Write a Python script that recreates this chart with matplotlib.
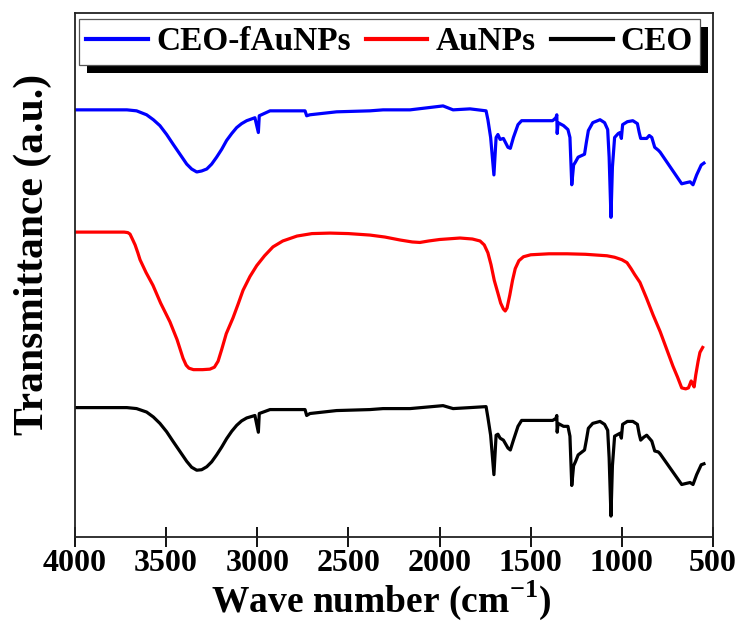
import matplotlib
matplotlib.use("Agg")
import matplotlib.pyplot as plt
from matplotlib.patches import Rectangle
from matplotlib.transforms import IdentityTransform

plt.rcParams['font.family'] = 'Liberation Serif'
plt.rcParams['font.weight'] = 'bold'
plt.rcParams['mathtext.fontset'] = 'custom'
plt.rcParams['mathtext.rm'] = 'Liberation Serif:bold'
plt.rcParams['mathtext.bf'] = 'Liberation Serif:bold'

# FTIR spectra, transmittance in arbitrary units (offset stacked)
wn_ceo_f = [4000, 3715, 3662, 3607, 3570, 3534, 3497, 3461, 3424, 3387, 3360, 3332, 3305, 3277,
            3250, 3223, 3195, 3168, 3140, 3113, 3086, 3058, 3013, 2994, 2989, 2930, 2738, 2729,
            2711, 2565, 2382, 2310, 2162, 1981, 1926, 1833,
            1745, 1735, 1720, 1702, 1690, 1680, 1668, 1650, 1625, 1612, 1595, 1570, 1550, 1380,
            1362, 1357, 1355, 1350, 1320, 1296, 1285, 1275, 1265, 1255, 1240, 1205, 1195, 1184,
            1160, 1120, 1095, 1078, 1070, 1060, 1052, 1040, 1020, 1010, 1003, 996, 970, 940,
            915, 905, 897, 880, 864, 850, 836, 820, 800, 790, 672, 650, 626, 610, 590, 575,
            565, 550]
t_ceo_f = [433, 433, 432, 428, 423, 417, 408, 398, 388, 378, 373, 370, 371, 373,
           378, 385, 393, 402, 409, 415, 419, 422, 425, 410, 427, 432, 432, 427,
           428, 431, 432, 433, 433, 437, 433, 434,
           432, 423, 405, 367, 405, 408, 403, 404, 395, 394, 405, 418, 422, 422,
           425, 428, 409, 420, 417, 413, 405, 357, 377, 380, 385, 388, 400, 412,
           420, 423, 420, 413, 385, 324, 375, 405, 409, 410, 404, 418, 421, 422,
           419, 410, 404, 404, 404, 407, 405, 395, 392, 390, 358, 359, 360, 357, 367, 373,
           377, 379]

wn_au = [4000, 3730, 3710, 3698, 3685, 3670, 3655, 3643, 3610, 3572, 3530, 3479, 3440, 3407,
         3390, 3375, 3350, 3300, 3260, 3235, 3215, 3195, 3170, 3133, 3105, 3078, 3040, 3003,
         2960, 2914, 2860, 2782, 2700, 2601, 2500, 2382, 2300, 2217, 2150, 2108, 2060, 2000,
         1888, 1820, 1778, 1755, 1735, 1718, 1700, 1680, 1665, 1650, 1640, 1630, 1615, 1600,
         1585, 1565, 1540, 1500, 1400, 1301, 1200, 1082, 1040, 1000, 972, 950, 930, 901,
         865, 829, 790, 754, 720, 695, 672, 650, 635, 620, 612, 604, 595, 582, 572, 557]
t_au = [309, 309, 308.5, 307, 302, 296, 288, 281, 268, 255, 237, 218, 200, 181,
        174, 171, 169.5, 169.5, 170, 172, 178, 190, 206, 222, 236, 250, 264, 275,
        285, 294, 300, 305, 307.5, 308, 307.5, 306, 304, 301, 299, 298.5, 300, 301.5,
        303, 302, 300, 296, 288, 276, 260, 247, 237, 231, 229, 232, 245, 260,
        272, 280, 284, 286, 287, 287, 286.5, 285, 283.5, 281, 278, 272, 266, 258,
        242, 225, 208, 190, 173, 162, 151, 150, 151, 158, 155, 152, 164, 178, 187, 192]

wn_ceo = [4000, 3715, 3662, 3607, 3570, 3534, 3497, 3461, 3424, 3387, 3360, 3332, 3305, 3277,
          3250, 3223, 3195, 3168, 3140, 3113, 3086, 3058, 3013, 2994, 2989, 2930, 2738, 2729,
          2711, 2565, 2382, 2310, 2162, 1981, 1926, 1833,
          1745, 1735, 1720, 1702, 1690, 1680, 1668, 1650, 1625, 1612, 1595, 1570, 1550, 1380,
          1362, 1357, 1355, 1350, 1320, 1296, 1285, 1275, 1265, 1255, 1240, 1205, 1195, 1184,
          1160, 1120, 1095, 1078, 1070, 1060, 1052, 1040, 1020, 1010, 1003, 996, 970, 940,
          915, 905, 897, 880, 864, 850, 836, 820, 800, 790, 672, 650, 626, 610, 590, 575,
          565, 550]
t_ceo = [131, 131, 130, 126.5, 121.5, 115, 106.5, 96.5, 86.5, 76.5, 70.5, 67.5, 68, 71,
         76, 83, 91, 99.5, 107, 113, 117.5, 120.5, 123, 106, 125, 129, 129, 123,
         125, 128, 129, 130, 130, 133, 130, 131,
         132, 121, 103, 63, 103, 104, 100, 98, 90, 88, 98, 112, 118, 118,
         120, 123, 106, 115, 112, 112, 102, 52, 72, 76, 83, 88, 98, 110,
         115, 117, 114, 108, 80, 21, 72, 102, 104, 105, 100, 114, 117, 117,
         114, 104, 98, 101, 103, 100, 97, 87, 86, 84, 53, 54, 55, 53, 63, 69,
         73, 74]

series = [(wn_ceo_f, t_ceo_f, '#0000ff', 'CEO-fAuNPs'),
          (wn_au, t_au, '#ff0000', 'AuNPs'),
          (wn_ceo, t_ceo, 'black', 'CEO')]

fig = plt.figure(figsize=(7.42, 6.30), dpi=100)
ax = fig.add_axes([0.101, 0.148, 0.86, 0.831])

for wn, t, c, lab in series:
    ax.plot(wn, t, color=c, lw=2.3, label=lab, solid_joinstyle='round')

ax.set_xlim(4000, 500)
ax.set_ylim(0, 531)
ax.set_xticks([4000, 3500, 3000, 2500, 2000, 1500, 1000, 500])
ax.set_yticks([])
ax.tick_params(axis='x', direction='inout', length=14, width=1.3, labelsize=23, pad=2)
for sp in ax.spines.values():
    sp.set_linewidth(1.3)
    sp.set_color('#222222')

ax.set_xlabel('Wave number (cm$^{-1}$)', fontsize=27, fontweight='bold', labelpad=0)
ax.xaxis.label.set_x(0.48)
ax.set_ylabel('Transmittance (a.u.)', fontsize=30, fontweight='bold')
ax.yaxis.set_label_coords(-0.036, 0.54)

leg = ax.legend(loc='upper left', bbox_to_anchor=(0.006, 0.989), borderaxespad=0, ncol=3,
                fontsize=24, frameon=True, fancybox=False, edgecolor='#555555',
                framealpha=1, handlelength=1.85, handletextpad=0.25, columnspacing=0.45,
                borderpad=0.22)
leg.get_frame().set_linewidth(0.9)
for line in leg.get_lines():
    line.set_linewidth(3)

# black drop shadow behind the legend
fig.canvas.draw()
bb = leg.get_window_extent()
shadow = Rectangle((bb.x0 + 8, bb.y0 - 8), bb.width, bb.height, transform=IdentityTransform(),
                   facecolor='black', edgecolor='none', zorder=leg.get_zorder() - 0.1)
ax.add_patch(shadow)

fig.savefig('out.png', dpi=100)
